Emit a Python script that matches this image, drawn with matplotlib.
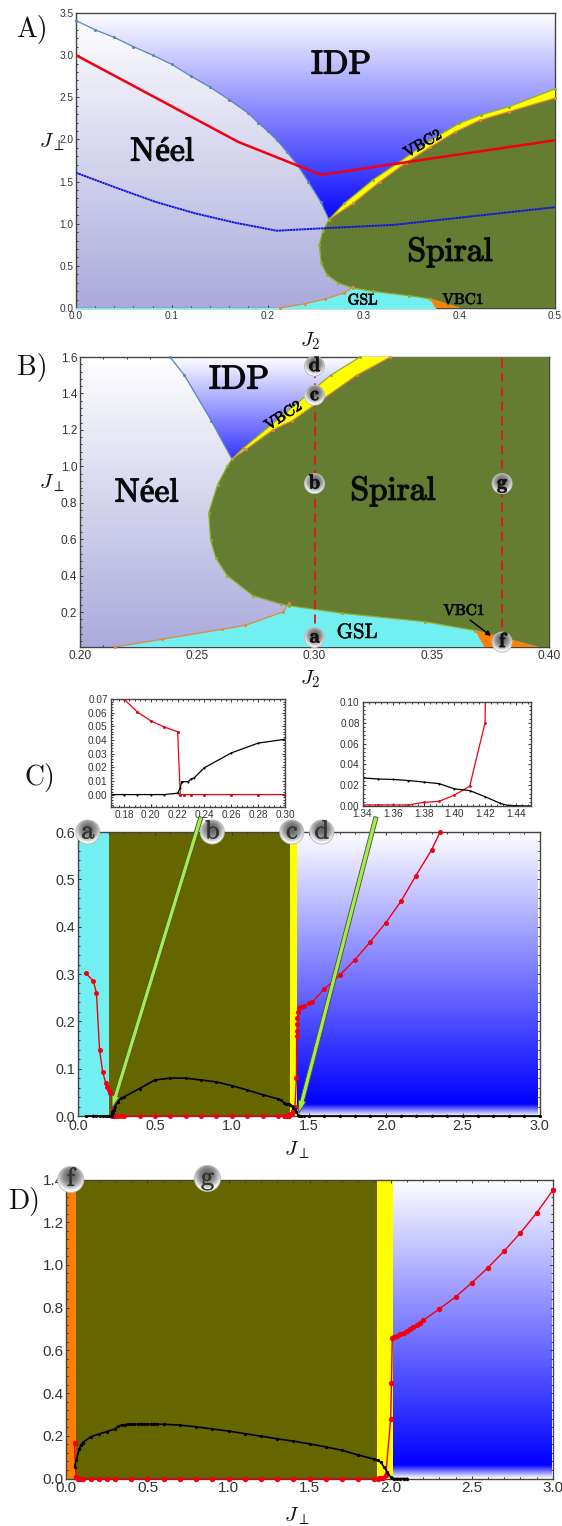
import numpy as np
import matplotlib
matplotlib.use('Agg')
import matplotlib.pyplot as plt
import matplotlib.patheffects as pe
from matplotlib.colors import LinearSegmentedColormap
from matplotlib.patches import Polygon, Circle
from matplotlib.ticker import AutoMinorLocator, FormatStrFormatter

plt.rcParams['font.family'] = ['Liberation Sans', 'DejaVu Sans']
plt.rcParams['mathtext.fontset'] = 'cm'

W, H = 562, 1526

# --- panel A boundaries (J2, Jperp)
a_idp_x = [0, .02, .04, .06, .08, .1, .12, .14, .16, .18, .19, .2, .21, .22, .231, .2425, .2555, .264]
a_idp_y = [3.41, 3.30, 3.21, 3.10, 3.0, 2.89, 2.75, 2.62, 2.47, 2.31, 2.2, 2.1, 1.99, 1.855, 1.70, 1.5, 1.26, 1.05]
a_top_x = [.264, .28, .31, .336, .37, .4, .4225, .4525, .5]
a_top_y = [1.05, 1.24, 1.52, 1.72, 1.99, 2.19, 2.29, 2.39, 2.6]
a_low_x = [.264, .289, .3175, .344, .37, .396, .422, .452, .5]
a_low_y = [1.05, 1.24, 1.5, 1.72, 1.91, 2.09, 2.23, 2.33, 2.49]
a_left_x = [.264, .2575, .254, .256, .262, .274, .289, .31, .3475, .37]
a_left_y = [1.05, .91, .75, .53, .395, .296, .237, .197, .146, .107]
a_gsl_x = [.2125, .239, .26, .28, .289]
a_gsl_y = [0, .05, .107, .178, .25]
a_vbc1_x = [.37, .375, .4]
a_vbc1_y = [.107, 0, 0]
a_red_x = [0, .1695, .2555, .5]
a_red_y = [3.0, 1.97, 1.58, 1.99]
a_blue_x = [0, .0407, .0825, .124, .166, .2095, .2495, .3325, .5]
a_blue_y = [1.605, 1.432, 1.261, 1.124, 1.012, .917, .941, .987, 1.196]

# --- panel B boundaries
b_idp_x = [.2384, .2445, .256, .2648]
b_idp_y = [1.6, 1.5, 1.25, 1.04]
b_top_x = [.2648, .2697, .3069, .3194]
b_top_y = [1.04, 1.10, 1.5, 1.6]
b_low_x = [.2648, .271, .2823, .2904, .318, .3324]
b_low_y = [1.04, 1.095, 1.2, 1.25, 1.5, 1.6]
b_left_x = [.2648, .2628, .2587, .2549, .2557, .258, .2628, .2737, .2858, .289, .3118, .347, .3686]
b_left_y = [1.04, 1.0, .9, .745, .595, .495, .4, .29, .243, .235, .193, .147, .098]
b_gsl_x = [.215, .2349, .2606, .2705, .2865, .289]
b_gsl_y = [.008, .05, .105, .127, .2, .247]
b_vbc1_x = [.3686, .3725, .395]
b_vbc1_y = [.098, .008, .008]

# --- panel C curves, the insets are zooms of the same data
c_red_x = [.05, .1, .12, .14, .16, .18, .19, .2, .21, .22, .222, .225, .23, .24, .26, .28, .3, .4, .5, .6, .7, .8,
           .9, 1.0, 1.1, 1.2, 1.3, 1.34, 1.35, 1.36, 1.37, 1.38, 1.39, 1.40, 1.41, 1.42, 1.421, 1.423, 1.425, 1.426,
           1.43, 1.435, 1.45, 1.47, 1.5, 1.52, 1.6, 1.7, 1.8, 1.9, 2.0, 2.1, 2.195, 2.3, 2.354]
c_red_y = [.302, .285, .26, .14, .094, .07, .0605, .054, .0495, .046, 0, 0, 0, 0, 0, 0, 0, 0, 0, 0, 0, 0,
           0, 0, 0, 0, 0, .001, .001, .001, .001, .0035, .0045, .0105, .019, .08, .17, .18, .194, .206,
           .22, .228, .23, .232, .238, .24, .268, .297, .33, .368, .408, .454, .507, .563, .6]
c_blk_x = [.05, .1, .12, .14, .16, .18, .19, .2, .21, .22, .222, .223, .228, .23, .232, .24, .26, .28, .3, .4, .5,
           .6, .7, .8, .9, 1.0, 1.1, 1.2, 1.3, 1.32, 1.34, 1.35, 1.36, 1.37, 1.38, 1.39, 1.40, 1.41, 1.42, 1.43,
           1.435, 1.44, 1.45, 1.47, 1.5, 1.6, 1.7, 1.8, 1.9, 2.0, 2.1, 2.2, 2.3, 2.4, 2.5, 2.6, 2.7, 2.8, 2.9, 3.0]
c_blk_y = [0, 0, 0, 0, 0, 0, 0, 0, 0, .001, .005, .0095, .0095, .0115, .012, .0197, .0305, .0377, .0405, .058, .076,
           .08, .08, .076, .072, .064, .055, .045, .036, .034, .027, .026, .0255, .0245, .023, .0215, .0165, .0148,
           .009, .0025, .0005, .0003, 0, 0, 0, 0, 0, 0, 0, 0, 0, 0, 0, 0, 0, 0, 0, 0, 0, 0]

# --- panel D curves
d_red_x = [.05, .06, .07, .08, .09, .1, .15, .2, .25, .3, .4, .5, .6, .7, .8, .9, 1.0, 1.1, 1.2, 1.3, 1.4, 1.5, 1.6,
           1.7, 1.8, 1.9, 1.92, 1.93, 1.94, 1.95, 1.97, 2.0, 2.005, 2.01, 2.02, 2.04, 2.06, 2.08, 2.1, 2.12, 2.14,
           2.16, 2.18, 2.2, 2.3, 2.4, 2.5, 2.6, 2.7, 2.8, 2.9, 3.0]
d_red_y = [.164, .005, 0, 0, 0, 0, 0, 0, 0, 0, 0, 0, 0, 0, 0, 0, 0, 0, 0, 0, 0, 0, 0,
           0, 0, 0, 0, .001, .002, .004, .015, .28, .448, .658, .663, .668, .675, .683, .69, .70, .71,
           .72, .73, .74, .794, .85, .916, .987, 1.065, 1.15, 1.243, 1.35]
d_blk_x = [.05, .06, .08, .09, .1, .15, .2, .25, .3, .32, .34, .36, .38, .4, .42, .44, .46, .48, .5, .52, .54, .56,
           .6, .7, .8, .9, 1.0, 1.1, 1.2, 1.3, 1.4, 1.5, 1.6, 1.7, 1.8, 1.9, 1.92, 1.94, 1.96, 1.98, 2.0, 2.01,
           2.02, 2.04, 2.06, 2.08, 2.1]
d_blk_y = [.055, .085, .14, .155, .168, .195, .208, .22, .232, .245, .25, .252, .254, .254, .254, .254, .254, .254,
           .254, .254, .254, .254, .254, .25, .242, .232, .222, .21, .198, .186, .175, .162, .148, .132, .11, .09,
           .085, .075, .052, .03, .006, .001, 0, 0, 0, 0, 0]

c_regions = [0, .2, 1.38, 1.425]
d_regions = [0, .06, 1.913, 2.012]

SPIRAL = '#647d32'
OLIVE = '#666600'
CYAN = '#72eff0'
YELLOW = '#ffff00'
ORANGE = '#ff8000'
TICK = '#333333'
DOT_BLUE = '#5a84bf'
DOT_GREEN = '#93ae2c'
DOT_ORANGE = '#e2893a'

neel_cm = LinearSegmentedColormap.from_list('neel', ['#aaaadc', '#ffffff'])
idp_cm = LinearSegmentedColormap.from_list('idp', ['#0000ff', '#ffffff'])

fig = plt.figure(figsize=(W / 100, H / 100), dpi=100)


def add_ax(x0, y0, x1, y1, xlim, ylim, xticks, ymaj, fs, fmt_x='%.1f', fmt_y='%.1f'):
    ax = fig.add_axes([x0 / W, 1 - y1 / H, (x1 - x0) / W, (y1 - y0) / H])
    ax.set_xticks(xticks)
    ax.set_yticks(np.arange(ymaj[0], ylim[1] + 1e-6, ymaj[1]))
    ax.set_xlim(xlim)
    ax.set_ylim(ylim)
    ax.xaxis.set_major_formatter(FormatStrFormatter(fmt_x))
    ax.yaxis.set_major_formatter(FormatStrFormatter(fmt_y))
    ax.xaxis.set_minor_locator(AutoMinorLocator(5))
    ax.yaxis.set_minor_locator(AutoMinorLocator(5))
    ax.tick_params(which='both', direction='in', top=True, right=True, color='#333333',
                   labelsize=fs, labelcolor=TICK, pad=2, width=.7)
    ax.tick_params(which='major', length=2.5)
    ax.tick_params(which='minor', length=1.2)
    for s in ax.spines.values():
        s.set_linewidth(1.0)
        s.set_color('#444444')
    return ax


def gradient(ax, x0, x1, y0, y1, cmap, clip=None, z=1):
    xlim, ylim = ax.get_xlim(), ax.get_ylim()
    g = np.linspace(1, 0, 256).reshape(-1, 1)
    im = ax.imshow(g, extent=[x0, x1, y0, y1], cmap=cmap, vmin=0, vmax=1, aspect='auto', zorder=z,
                   interpolation='bilinear')
    if clip is not None:
        im.set_clip_path(Polygon(clip, closed=True, transform=ax.transData))
    ax.set_xlim(xlim)
    ax.set_ylim(ylim)


def boundary(ax, x, y, color, ms=2.2, lw=.9):
    ax.plot(x, y, '-o', color=color, lw=lw, ms=ms, mew=0, zorder=5, clip_on=False)


def phase_panel(ax, idp, top, low, left, gsl, vbc1, ybot, idp_range):
    xl, xr = ax.get_xlim()
    ytop = ax.get_ylim()[1]
    gradient(ax, xl, xr, ybot, ytop, neel_cm, z=1)
    # IDP wedge sits between the Neel boundary and the top of the VBC2 band
    poly = list(zip(idp[0], idp[1])) + list(zip(top[0], top[1]))[1:]
    poly += [(xr, ytop), (idp[0][0], ytop)]
    gradient(ax, xl, xr, idp_range[0], idp_range[1], idp_cm, clip=poly, z=2)
    # VBC2 band
    ax.add_patch(Polygon(list(zip(top[0], top[1])) + list(zip(low[0], low[1]))[::-1],
                         fc=YELLOW, ec='none', zorder=3))
    # GSL and VBC1
    gsl_poly = list(zip(gsl[0], gsl[1])) + [p for p in zip(left[0], left[1]) if p[0] > gsl[0][-1]]
    gsl_poly += [(vbc1[0][1], ybot)]
    ax.add_patch(Polygon(gsl_poly, fc=CYAN, ec='none', zorder=3))
    ax.add_patch(Polygon(list(zip(vbc1[0], vbc1[1])), fc=ORANGE, ec='none', zorder=3))
    # Spiral
    sp = list(zip(low[0], low[1]))
    if low[0][-1] < xr:
        sp += [(xr, ytop)]
    sp += [(xr, ybot), (vbc1[0][2], ybot)]
    sp += list(zip(left[0], left[1]))[::-1]
    ax.add_patch(Polygon(sp, fc=SPIRAL, ec='none', zorder=3))
    # boundaries
    boundary(ax, idp[0], idp[1], DOT_BLUE)
    boundary(ax, top[0], top[1], DOT_GREEN)
    boundary(ax, low[0], low[1], DOT_ORANGE)
    boundary(ax, left[0], left[1], DOT_GREEN)
    boundary(ax, gsl[0], gsl[1], DOT_ORANGE)
    ax.plot(vbc1[0][:1] + [vbc1[0][2]], vbc1[1][:1] + [vbc1[1][2]], color=DOT_ORANGE, lw=.9, zorder=5)


def cuts_panel(ax, regions, colors, idp_floor, rx, ry, kx, ky, ms_r, ms_k):
    xr = ax.get_xlim()[1]
    ytop = ax.get_ylim()[1]
    for i, c in enumerate(colors):
        ax.axvspan(regions[i], regions[i + 1], color=c, lw=0, zorder=1)
    x_end = xr - .012
    gradient(ax, regions[-1], x_end, idp_floor, ytop, idp_cm, z=1)
    fade = LinearSegmentedColormap.from_list('fade', ['#ffffff', '#0000ff'])
    gradient(ax, regions[-1], x_end, 0, idp_floor, fade, z=1)
    ax.plot(rx, ry, '-o', color='#f00010', lw=1.0, ms=ms_r, mew=0, zorder=5, clip_on=False)
    ax.plot(kx, ky, '-o', color='black', lw=1.2, ms=ms_k, mew=0, zorder=6, clip_on=False)


# A
axA = add_ax(76, 13, 555, 308, (0, .5), (0, 3.5), np.arange(0, .51, .1), (0, .5), 7.3)
phase_panel(axA, (a_idp_x, a_idp_y), (a_top_x, a_top_y), (a_low_x, a_low_y), (a_left_x, a_left_y),
            (a_gsl_x, a_gsl_y), (a_vbc1_x, a_vbc1_y), 0, (1.0, 3.5))
axA.plot([0, a_vbc1_x[1]], [0, 0], color=CYAN, lw=1.0, zorder=4, clip_on=False)
axA.plot(a_red_x, a_red_y, color='#f00010', lw=1.8, zorder=7)
axA.plot(a_blue_x, a_blue_y, color='#0a14e6', lw=1.4, dashes=(1.2, .25), zorder=7)

# B
axB = add_ax(80, 357, 549, 647, (.2, .4), (.008, 1.6), np.arange(.2, .41, .05), (.2, .2), 8.6, '%.2f')
phase_panel(axB, (b_idp_x, b_idp_y), (b_top_x, b_top_y), (b_low_x, b_low_y), (b_left_x, b_left_y),
            (b_gsl_x, b_gsl_y), (b_vbc1_x, b_vbc1_y), .008, (.9, 1.6))
axB.plot([.3, .3], [.06, 1.55], color='#e81020', lw=1.3, dashes=(5, 3), zorder=6)
axB.plot([.38, .38], [.035, 1.6], color='#e81020', lw=1.3, dashes=(5, 3), zorder=6)

# C
axC = add_ax(78, 832, 539.5, 1116, (0, 3), (0, .6), np.arange(0, 3.01, .5), (0, .1), 10.3)
cuts_panel(axC, c_regions, [CYAN, OLIVE, YELLOW], .025, c_red_x, c_red_y, c_blk_x, c_blk_y, 3.6, 2.3)

# D
axD = add_ax(66.4, 1179.5, 552.8, 1478.5, (0, 3), (0, 1.4), np.arange(0, 3.01, .5), (0, .2), 11)
cuts_panel(axD, d_regions, [ORANGE, OLIVE, YELLOW], .06, d_red_x, d_red_y, d_blk_x, d_blk_y, 3.9, 2.4)

# C insets
axI1 = add_ax(110.5, 699, 285, 807, (.17, .30), (-.0091, .07), np.arange(.18, .301, .02), (0, .01), 7.2, '%.2f', '%.2f')
axI1.plot(c_red_x, c_red_y, '-o', color='#f00010', lw=.9, ms=2.2, mew=0)
axI1.plot(c_blk_x, c_blk_y, '-o', color='black', lw=.9, ms=1.5, mew=0)
axI2 = add_ax(362.5, 702, 531, 806, (1.34, 1.45), (0, .10), np.arange(1.34, 1.441, .02), (0, .02), 7.2, '%.2f', '%.2f')
axI2.plot(c_red_x, c_red_y, '-o', color='#f00010', lw=.9, ms=2.0, mew=0)
axI2.plot(c_blk_x, c_blk_y, '-o', color='black', lw=.9, ms=1.5, mew=0)

# overlay in pixel coordinates for labels, arrows and badges
ov = fig.add_axes([0, 0, 1, 1], zorder=10)
ov.set_xlim(0, W)
ov.set_ylim(H, 0)
ov.axis('off')
ov.patch.set_alpha(0)

# glassy shading of the round badges
yy, xx = np.mgrid[-1:1:64j, -1:1:64j]
badge_shade = np.clip(.42 + .46 * (xx ** 2 + (yy + .12) ** 2) + .12 * yy, 0, 1)


def to_px(ax, x, y):
    p = ax.transData.transform((x, y))
    return p[0], H - p[1]


def badge(ax, x, y, letter, r, fs, font, color):
    cx, cy = to_px(ax, x, y)
    im = ov.imshow(badge_shade, extent=[cx - r, cx + r, cy + r, cy - r], cmap='gray', aspect='auto', zorder=8,
                   interpolation='bilinear', vmin=0, vmax=1)
    im.set_clip_path(Circle((cx, cy), r, transform=ov.transData))
    ov.add_patch(Circle((cx, cy), r, fc='none', ec='#bdbdbd', lw=.7, zorder=8))
    ov.text(cx, cy - .5, letter, family=font, fontsize=fs, ha='center', va='center', color=color, zorder=9,
            path_effects=[pe.withStroke(linewidth=.3, foreground=color)])


for xp, yp in [((201, 817), (112, 1108)), ((376, 817), (299, 1113))]:
    ov.annotate('', xy=yp, xytext=xp, zorder=5,
                arrowprops=dict(facecolor='#a2ee44', edgecolor='#4a4a4a', width=3.0, headwidth=5.5, headlength=9,
                                shrink=0, lw=.6))

for ax, x, y, s, r, f, fn, col in [
        (axB, .3, 1.55, 'd', 10, 15, 'cmb10', '#111111'), (axB, .3, 1.39, 'c', 10, 15, 'cmb10', '#111111'),
        (axB, .3, .905, 'b', 10, 15, 'cmb10', '#111111'), (axB, .3, .06, 'a', 10, 15, 'cmb10', '#111111'),
        (axB, .38, .905, 'g', 10, 15, 'cmb10', '#111111'), (axB, .38, .035, 'f', 10, 15, 'cmb10', '#111111'),
        (axC, .063, .6, 'a', 12, 19, 'cmr10', '#333333'), (axC, .873, .6, 'b', 12, 19, 'cmr10', '#333333'),
        (axC, 1.39, .6, 'c', 12, 19, 'cmr10', '#333333'), (axC, 1.585, .6, 'd', 12, 19, 'cmr10', '#333333'),
        (axD, .027, 1.4, 'f', 13, 19, 'cmr10', '#333333'), (axD, .87, 1.405, 'g', 13, 19, 'cmr10', '#333333')]:
    badge(ax, x, y, s, r, f, fn, col)

ov.set_xlim(0, W)
ov.set_ylim(H, 0)

roman = ['cmr10', 'Liberation Serif']
for s, x, y, fs, rot, st in [('IDP', 341, 65, 24, 0, .9), ('Néel', 162, 152, 24, 0, .9), ('Spiral', 450, 252, 24, 0, .9),
                             ('VBC2', 423, 144, 11, 30, .6), ('GSL', 362.5, 300.5, 11, 0, .6),
                             ('VBC1', 463, 300, 11, 0, .6),
                             ('IDP', 239, 380, 24, 0, .9), ('Néel', 146.5, 493, 24, 0, .9),
                             ('Spiral', 393, 491, 24, 0, .9),
                             ('VBC2', 283.5, 416, 11, 33, .6), ('GSL', 357, 633, 15, 0, .4),
                             ('VBC1', 464, 611, 11, 0, .6)]:
    ov.text(x, y, s, family=roman, fontsize=fs, ha='center', va='center', rotation=rot, color='#0a0a0a', zorder=7,
            path_effects=[pe.withStroke(linewidth=st, foreground='#0a0a0a')])

ov.annotate('', xy=(491, 636), xytext=(470, 620), zorder=7,
            arrowprops=dict(arrowstyle='-|>', color='black', lw=1.0, mutation_scale=7, shrinkA=0, shrinkB=0))

for s, x, y in [('A)', 32, 30), ('B)', 32, 368), ('C)', 40, 778), ('D)', 24, 1202)]:
    ov.text(x, y, s, family='cmr10', fontsize=20, ha='center', va='center', color='#111111')

for s, x, y in [(r'$J_{\perp}$', 52, 142), (r'$J_{\perp}$', 52, 483), (r'$J_2$', 310, 341), (r'$J_2$', 310, 679),
                (r'$J_{\perp}$', 297, 1150), (r'$J_{\perp}$', 297, 1516)]:
    ov.text(x, y, s, fontsize=15, ha='center', va='center', color='#111111')

fig.savefig('out.png', dpi=100)
